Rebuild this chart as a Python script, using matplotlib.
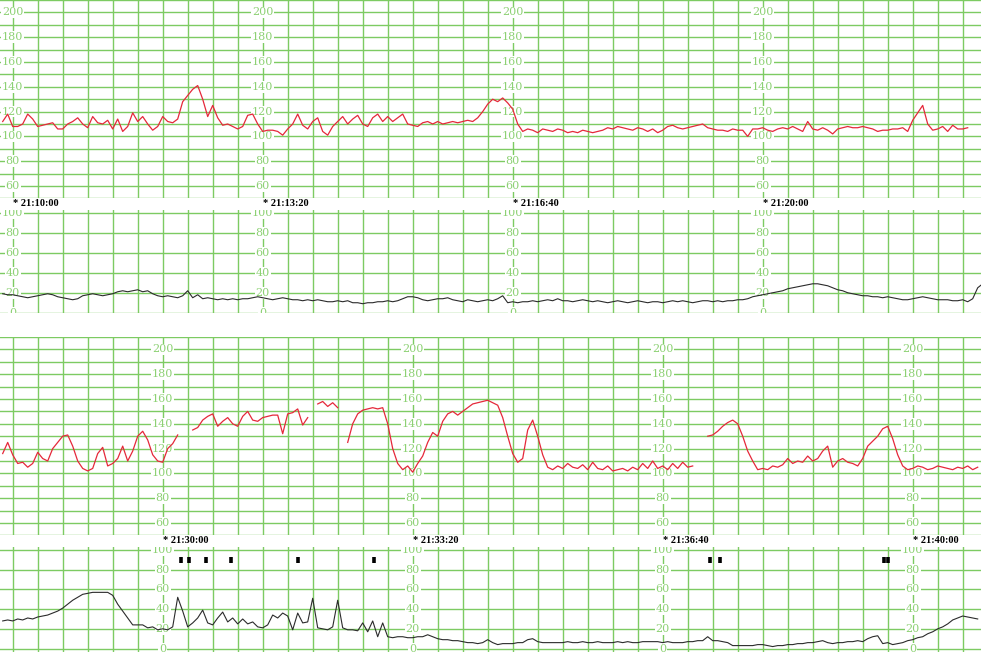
import numpy as np
import matplotlib
matplotlib.use("Agg")
import matplotlib.pyplot as plt

nan = np.nan

# time axis: seconds after 21:10:00, one sample every 4 s
row1_start = -8
row2_start = 1072
step = 4

# fetal heart rate, first strip (bpm)
fhr_row1 = [
    112, 118, 108, 108, 110, 118, 114, 108, 109, 110,
    111, 106, 106, 110, 112, 115, 110, 107, 116, 111,
    110, 113, 106, 114, 104, 108, 119, 112, 116, 110,
    105, 108, 116, 112, 111, 114, 128, 133, 138, 141,
    130, 116, 125, 115, 109, 110, 108, 106, 108, 117,
    118, 110, 104, 105, 105, 104, 101, 106, 110, 118,
    109, 106, 112, 115, 104, 101, 108, 112, 116, 110,
    114, 117, 110, 108, 115, 118, 112, 116, 112, 115,
    118, 110, 109, 108, 111, 112, 110, 112, 110, 111,
    112, 111, 112, 113, 112, 115, 120, 126, 130, 128,
    131, 127, 122, 110, 104, 106, 105, 103, 106, 105,
    104, 106, 105, 103, 104, 103, 105, 104, 103, 104,
    105, 107, 106, 108, 107, 106, 105, 107, 106, 104,
    106, 103, 105, 108, 109, 107, 106, 107, 108, 109,
    110, 107, 106, 105, 105, 104, 106, 105, 105, 100,
    106, 106, 107, 105, 104, 106, 107, 106, 108, 106,
    104, 112, 106, 105, 107, 105, 102, 106, 107, 108,
    107, 107, 108, 107, 106, 104, 105, 105, 106, 106,
    107, 104, 113, 119, 125, 110, 105, 106, 108, 104,
    109, 106, 106, 107, nan, 106,
]

# uterine activity, first strip
ua_row1 = [
    19, 18, 18, 17, 16, 15, 16, 17, 18, 19,
    18, 16, 15, 14, 13, 14, 17, 18, 19, 18,
    17, 18, 19, 21, 22, 21, 22, 23, 21, 22,
    19, 17, 16, 17, 16, 15, 17, 22, 15, 18,
    14, 15, 14, 13, 14, 13, 14, 13, 14, 14,
    15, 16, 15, 14, 13, 14, 15, 14, 13, 13,
    12, 13, 12, 13, 12, 11, 11, 12, 11, 12,
    10, 10, 9, 10, 10, 11, 11, 12, 11, 12,
    14, 16, 16, 15, 13, 12, 13, 14, 14, 15,
    13, 12, 11, 13, 12, 11, 12, 13, 12, 14,
    17, 10, 11, 10, 11, 11, 12, 11, 12, 13,
    12, 14, 12, 12, 11, 12, 13, 12, 11, 12,
    11, 10, 11, 12, 11, 10, 11, 12, 11, 10,
    11, 11, 10, 11, 12, 11, 12, 11, 10, 11,
    12, 12, 11, 12, 11, 12, 12, 13, 13, 14,
    16, 17, 18, 19, 20, 21, 22, 24, 25, 26,
    27, 28, 29, 29, 28, 27, 25, 23, 22, 20,
    19, 18, 17, 17, 16, 16, 15, 16, 15, 14,
    13, 13, 14, 15, 16, 15, 14, 13, 13, 13,
    12, 12, 13, 11, 14, 25, 29,
]

# fetal heart rate, second strip (bpm)
fhr_row2 = [
    116, 125, 115, 108, 109, 105, 108, 117, 112, 110,
    120, 125, 130, 131, 122, 110, 104, 102, 104, 116,
    121, 106, 108, 112, 122, 110, 118, 130, 134, 127,
    115, 110, 109, 120, 124, 131, nan, nan, 135, 137,
    143, 146, 148, 138, 142, 145, 140, 138, 146, 150,
    143, 142, 145, 146, 147, 147, 132, 148, 149, 152,
    139, 145, nan, 156, 158, 154, 157, 153, nan, 125,
    140, 148, 151, 152, 153, 152, 153, 140, 120, 108,
    103, 106, 101, 108, 114, 125, 133, 130, 142, 148,
    150, 147, 150, 153, 156, 157, 158, 159, 157, 155,
    145, 130, 116, 109, 112, 135, 143, 130, 115, 105,
    103, 106, 104, 108, 105, 104, 107, 103, 109, 104,
    103, 106, 102, 103, 104, 102, 105, 103, 108, 104,
    110, 104, 106, 103, 108, 104, 109, 105, 106, nan,
    nan, 130, 131, 134, 138, 141, 143, 140, 130, 118,
    110, 103, 104, 103, 106, 105, 107, 112, 108, 110,
    109, 114, 110, 112, 118, 122, 105, 110, 112, 109,
    108, 106, 112, 122, 126, 130, 136, 138, 128, 115,
    106, 103, 104, 106, 105, 103, 104, 106, 105, 104,
    103, 105, 104, 106, 103, 105,
]

# uterine activity, second strip
ua_row2 = [
    28, 29, 28, 30, 29, 31, 30, 32, 33, 34,
    36, 38, 41, 45, 49, 52, 55, 56, 57, 57,
    57, 57, 54, 45, 38, 31, 24, 24, 24, 21,
    22, 19, 20, 19, 22, 52, 38, 22, 26, 31,
    39, 26, 24, 31, 37, 27, 31, 25, 30, 25,
    27, 22, 21, 24, 34, 31, 36, 33, 19, 36,
    26, 27, 51, 21, 20, 19, 22, 49, 21, 19,
    19, 18, 26, 17, 28, 12, 26, 12, 11, 12,
    12, 11, 11, 12, 12, 14, 12, 10, 9, 9,
    8, 8, 7, 6, 6, 5, 6, 9, 6, 4,
    5, 5, 5, 6, 6, 9, 10, 7, 6, 6,
    6, 6, 6, 7, 6, 6, 7, 6, 6, 7,
    6, 6, 6, 7, 6, 7, 6, 6, 7, 7,
    7, 7, 6, 7, 6, 6, 6, 7, 7, 8,
    8, 12, 8, 8, 7, 6, 3, 3, 3, 3,
    3, 4, 4, 3, 2, 3, 3, 4, 4, 5,
    5, 6, 6, 7, 8, 6, 5, 6, 6, 7,
    7, 8, 7, 10, 12, 13, 5, 6, 4, 5,
    6, 8, 9, 11, 12, 15, 17, 20, 22, 25,
    29, 31, 33, 32, 31, 30,
]

# event marks on the second strip (seconds after 21:10:00)
events = [1215, 1221, 1235, 1255, 1308, 1369, 1638, 1646, 1777, 1780]

row1_labels = ["21:10:00", "21:13:20", "21:16:40", "21:20:00"]
row2_labels = ["21:30:00", "21:33:20", "21:36:40", "21:40:00"]
row1_marks = [0, 200, 400, 600]
row2_marks = [1200, 1400, 1600, 1800]
fhr_ticks = [60, 80, 100, 120, 140, 160, 180, 200]
ua_ticks = [0, 20, 40, 60, 80, 100]

W, H = 981, 652
grid_c = "#7dcb62"
lab_c = "#8dd174"
sec_per_px = 0.8


def px(y0, y1):
    # y0,y1 in pixels from the top -> [left, bottom, width, height]
    return [0, 1 - y1 / H, 1, (y1 - y0) / H]


def strip(ax, t_left, ylo, yhi, hstep, ticks, marks):
    t_right = t_left + W * sec_per_px
    ax.set_xticks(np.arange(np.ceil(t_left / 20) * 20, t_right, 20))
    ax.set_yticks(np.arange(0, 220, hstep))
    ax.set_xlim(t_left, t_right)
    ax.set_ylim(ylo, yhi)
    ax.grid(True, color=grid_c, lw=1.0)
    ax.tick_params(length=0, labelbottom=False, labelleft=False)
    for s in ax.spines.values():
        s.set_visible(False)
    ax.set_axisbelow(True)
    for m in marks:
        for v in ticks:
            ax.text(m, v, str(v), color=lab_c, fontsize=8, family="DejaVu Serif",
                    ha="center", va="center", zorder=2, clip_on=True,
                    bbox=dict(facecolor="white", edgecolor="none", pad=0.6))


fig = plt.figure(figsize=(W / 100, H / 100), dpi=100)

t1 = row1_start + step * np.arange(len(fhr_row1))
tu1 = row1_start + step * np.arange(len(ua_row1))
t2 = row2_start + step * np.arange(len(fhr_row2))
tu2 = row2_start + step * np.arange(len(ua_row2))
left1 = -12.7 * sec_per_px
left2 = 1200 - 162.7 * sec_per_px

ax1 = fig.add_axes(px(0, 198.4))
strip(ax1, left1, 50, 210, 10, fhr_ticks, row1_marks)
ax1.plot(t1, fhr_row1, color="#e5283a", lw=0.9, zorder=3)

ax2 = fig.add_axes(px(210, 312.7))
strip(ax2, left1, 0, 103, 20, ua_ticks, row1_marks)
ax2.plot(tu1, ua_row1, color="#2b2b2b", lw=0.8, zorder=3)

ax3 = fig.add_axes(px(337, 535.4))
strip(ax3, left2, 50, 210, 10, fhr_ticks, row2_marks)
ax3.plot(t2, fhr_row2, color="#e5283a", lw=0.9, zorder=3)

ax4 = fig.add_axes(px(547, 652))
strip(ax4, left2, -3.5, 103, 20, ua_ticks, row2_marks)
ax4.plot(tu2, ua_row2, color="#2b2b2b", lw=0.8, zorder=3)
ax4.plot(events, [90] * len(events), ls="none", marker="|", ms=5, mew=2.6,
         color="black", zorder=4)

for marks, labels, ypx, left in [(row1_marks, row1_labels, 204, left1),
                                 (row2_marks, row2_labels, 540.5, left2)]:
    for m, lab in zip(marks, labels):
        xf = (m - left) / sec_per_px / W
        fig.text(xf, 1 - ypx / H, "* " + lab, fontsize=7.5, fontweight="bold",
                 family="Liberation Serif", ha="left", va="center")

fig.savefig("out.png", dpi=100)
